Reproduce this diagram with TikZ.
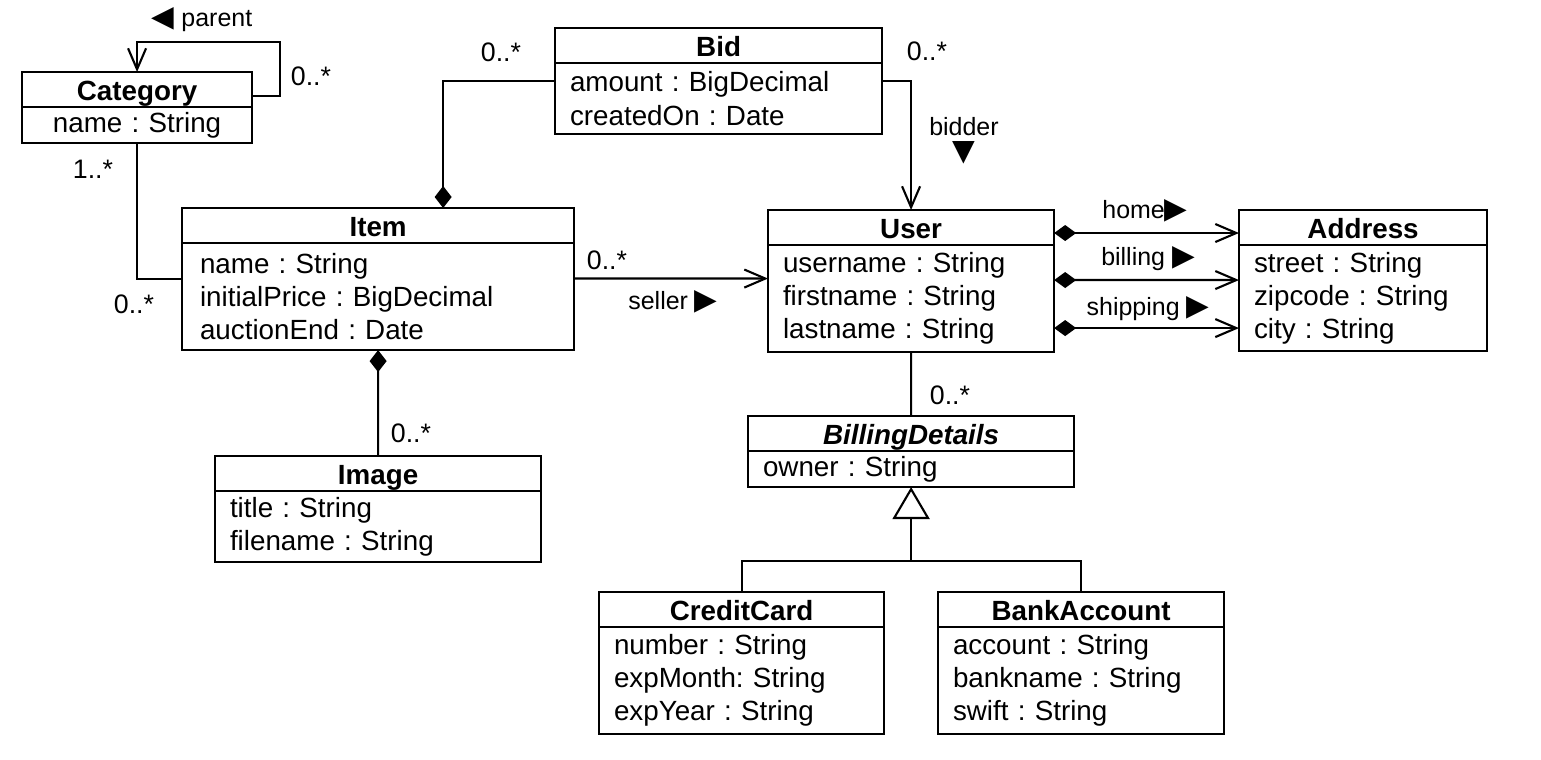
\documentclass[tikz,border=0pt]{standalone}
\usepackage{fontspec}
\setmainfont{Liberation Sans}
\newfontfamily\symfont{DejaVu Sans}
\usetikzlibrary{positioning,arrows.meta}

\newcommand{\triR}{{\symfont\fontsize{8.4}{8.4}\selectfont ▶}}
\newcommand{\triL}{{\symfont\fontsize{8.4}{8.4}\selectfont ◀}}
\newcommand{\triD}{{\symfont\fontsize{8.4}{8.4}\selectfont ▼}}

\tikzset{
  chead/.style={draw, anchor=north west, inner sep=0pt, outer sep=0pt,
    minimum height=0.35cm, text height=7pt, text depth=0.9pt,
    font=\fontsize{7.9}{9.4}\selectfont\bfseries},
  cbody/.style={draw, inner xsep=0.15cm, inner ysep=0pt, outer sep=0pt,
    align=left, font=\fontsize{7.9}{9.4}\selectfont},
  mult/.style={font=\fontsize{7.6}{9}\selectfont, inner sep=0pt},
  role/.style={font=\fontsize{7.1}{8.5}\selectfont, inner sep=0pt},
  assoc/.style={-{Straight Barb[length=0.21cm,width=0.18cm]}},
  comp/.style={{Diamond[length=0.22cm,width=0.17cm]}-},
  compnav/.style={{Diamond[length=0.22cm,width=0.16cm]}-{Straight Barb[length=0.21cm,width=0.18cm]}},
  gen/.style={-{Triangle[open,length=0.32cm,width=0.37cm]}}
}

\begin{document}
\frenchspacing
\begin{tikzpicture}[
  x=0.01cm, y=-0.01cm,
  line width=0.6pt
]
\useasboundingbox (0,0) rectangle (1541,760);

% classes
\node[chead, minimum width=2.30cm] (cat) at (22,72) {Category};
\node[cbody, below=0pt of cat, text width=2.00cm, align=center, minimum height=0.36cm] (catb)
  {name : String};

\node[chead, minimum width=3.92cm] (item) at (182,208) {Item};
\node[cbody, below=0pt of item, text width=3.56cm, inner xsep=0.18cm, minimum height=1.07cm] (itemb)
  {name : String\\initialPrice : BigDecimal\\auctionEnd : Date};

\node[chead, minimum width=3.27cm] (bid) at (555,28) {Bid};
\node[cbody, below=0pt of bid, text width=2.97cm, minimum height=0.71cm] (bidb)
  {amount : BigDecimal\\createdOn : Date};

\node[chead, minimum width=2.86cm] (user) at (768,210) {User};
\node[cbody, below=0pt of user, text width=2.56cm, minimum height=1.07cm] (userb)
  {username : String\\firstname : String\\lastname : String};

\node[chead, minimum width=2.48cm] (addr) at (1239,210) {Address};
\node[cbody, below=0pt of addr, text width=2.18cm, minimum height=1.06cm] (addrb)
  {street : String\\zipcode : String\\city : String};

\node[chead, minimum width=3.26cm] (img) at (215,456) {Image};
\node[cbody, below=0pt of img, text width=2.96cm, minimum height=0.71cm] (imgb)
  {title : String\\filename : String};

\node[chead, minimum width=3.26cm, font=\fontsize{7.9}{9.4}\selectfont\bfseries\itshape] (bd) at (748,416) {BillingDetails};
\node[cbody, below=0pt of bd, text width=2.96cm, minimum height=0.36cm] (bdb)
  {owner : String};

\node[chead, minimum width=2.85cm] (cc) at (599,592) {CreditCard};
\node[cbody, below=0pt of cc, text width=2.55cm, minimum height=1.07cm] (ccb)
  {number : String\\expMonth: String\\expYear : String};

\node[chead, minimum width=2.86cm] (ba) at (938,592) {BankAccount};
\node[cbody, below=0pt of ba, text width=2.56cm, minimum height=1.07cm] (bab)
  {account : String\\bankname : String\\swift : String};

% associations
\draw[assoc] ([yshift=-0.24cm]cat.north east) -- ++(28,0) -- ++(0,-54) -| (cat.north);
\draw (catb.south) |- ([yshift=0.175cm]itemb.west);
\draw[comp] ([xshift=0.65cm]item.north) |- ([yshift=0.175cm]bidb.west);
\draw[assoc] ([yshift=0.175cm]bidb.east) -| (user.north);
\draw[assoc] ([yshift=0.18cm]itemb.east) -- ([yshift=0.20cm]userb.west);
\draw[comp] (itemb.south) -- (img.north);

\draw[compnav] ([yshift=-0.055cm]user.east) -- ([yshift=-0.055cm]addr.west);
\draw[compnav] ([yshift=0.185cm]userb.east) -- ([yshift=0.18cm]addrb.west);
\draw[compnav] ([yshift=-0.295cm]userb.east) -- ([yshift=-0.30cm]addrb.west);

\draw (userb.south) -- (bd.north);

% generalization
\coordinate[below=0.74cm of bdb.south] (gj);
\draw[gen] (gj) -- (bdb.south);
\draw (cc.north) |- (gj) -| (ba.north);

% labels
\node[role] (lparent) at (202,20) {\triL\ parent};
\node[mult] (m1) at (311,76) {0..*};
\node[mult] (m2) at (93,169) {1..*};
\node[mult] (m3) at (134,304) {0..*};
\node[mult] (m4) at (501,52) {0..*};
\node[mult] (m5) at (927,51) {0..*};
\node[role] (lbidder) at (964,127) {bidder};
\node[role] (tbidder) at (964,153) {\triD};
\node[mult] (m6) at (607,260) {0..*};
\node[role] (lseller) at (673,302) {seller \triR};
\node[mult] (m7) at (411,433) {0..*};
\node[mult] (m8) at (950,395) {0..*};
\node[role] (lhome) at (1145,211) {home\triR};
\node[role] (lbilling) at (1148,259) {billing \triR};
\node[role] (lshipping) at (1148,309) {shipping \triR};

\end{tikzpicture}
\end{document}
